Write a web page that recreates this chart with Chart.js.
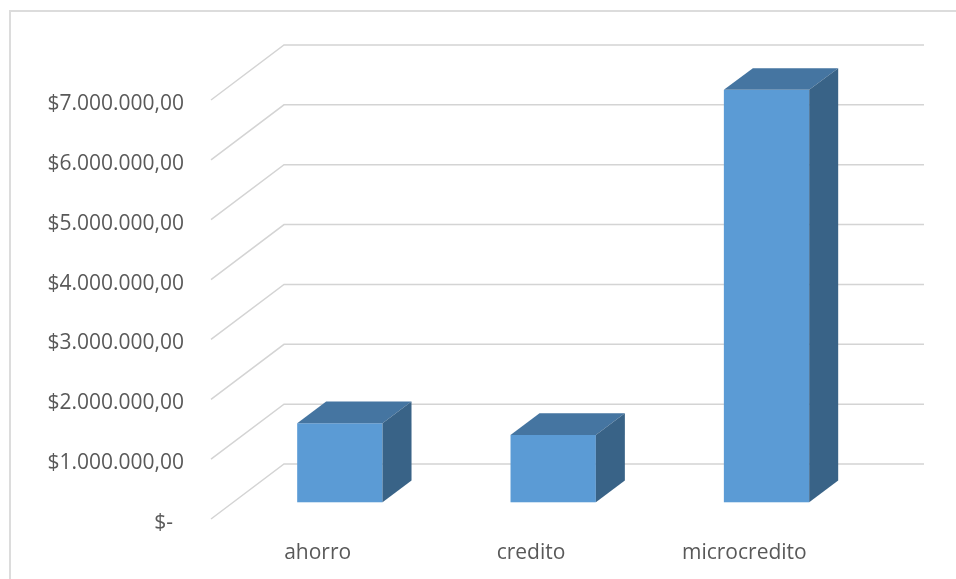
<!DOCTYPE html>
<html>
<head>
<meta charset="utf-8">
<script src="https://cdn.jsdelivr.net/npm/chart.js@4/dist/chart.umd.min.js"></script>
<style>
  html, body { margin: 0; padding: 0; background: #fff; overflow: hidden; }
  #frame { position: absolute; left: 9px; top: 10px; width: 1000px; height: 1000px;
           border-left: 2px solid #dcdcdc; border-top: 2px solid #dcdcdc; }
  #myChart { position: absolute; left: 0; top: 0; }
</style>
</head>
<body>
<div id="frame"></div>
<canvas id="myChart" width="956" height="579"></canvas>
<script>
// data
var categories = ["ahorro", "credito", "microcredito"];
var montos = [1320000, 1125000, 6890000];
var yMax = 7000000;
var yStep = 1000000;

// 3d look
var wallDX = 73, wallDY = -55;     // front edge of floor -> back wall
var faceFrac = 0.304;              // where the bar front face sits in depth
var barDX = 29, barDY = -21.7;     // bar depth
var gridColor = "#d4d4d4";
var frontColor = "#5b9bd5";
var topColor = "#4575a1";
var sideColor = "#396387";

function money(v){
  if (v === 0) return "$-  ";
  var s = Math.round(v).toString().replace(/\B(?=(\d{3})+(?!\d))/g, ".");
  return "$" + s + ",00";
}

var wallPlugin = {
  id: "wall",
  beforeDatasetsDraw: function(chart){
    var ctx = chart.ctx;
    var ys = chart.scales.y;
    var area = chart.chartArea;
    ctx.save();
    ctx.strokeStyle = gridColor;
    ctx.lineWidth = 1.5;
    ys.ticks.forEach(function(t){
      var y = ys.getPixelForValue(t.value);
      ctx.beginPath();
      ctx.moveTo(area.left, y);
      ctx.lineTo(area.left + wallDX, y + wallDY);
      ctx.lineTo(area.right + wallDX, y + wallDY);
      ctx.stroke();
    });
    ctx.restore();
  },
  afterDatasetsDraw: function(chart){
    var ctx = chart.ctx;
    var meta = chart.getDatasetMeta(0);
    var fx = faceFrac * wallDX, fy = faceFrac * wallDY;
    ctx.save();
    meta.data.forEach(function(bar){
      var p = bar.getProps(["x", "y", "base", "width"], true);
      var x0 = p.x - p.width / 2 + fx, x1 = p.x + p.width / 2 + fx;
      var yt = p.y + fy, yb = p.base + fy;
      // front
      ctx.fillStyle = frontColor;
      ctx.fillRect(x0, yt, x1 - x0, yb - yt);
      // top
      ctx.fillStyle = topColor;
      ctx.beginPath();
      ctx.moveTo(x0, yt);
      ctx.lineTo(x1, yt);
      ctx.lineTo(x1 + barDX, yt + barDY);
      ctx.lineTo(x0 + barDX, yt + barDY);
      ctx.closePath();
      ctx.fill();
      // side
      ctx.fillStyle = sideColor;
      ctx.beginPath();
      ctx.moveTo(x1, yt);
      ctx.lineTo(x1 + barDX, yt + barDY);
      ctx.lineTo(x1 + barDX, yb + barDY);
      ctx.lineTo(x1, yb);
      ctx.closePath();
      ctx.fill();
    });
    ctx.restore();
  }
};

var ctx = document.getElementById("myChart").getContext("2d");
var chart = new Chart(ctx, {
  type: "bar",
  data: {
    labels: categories,
    datasets: [{
      label: "Monto",
      data: montos,
      backgroundColor: "rgba(0,0,0,0)",
      borderWidth: 0,
      categoryPercentage: 0.4,
      barPercentage: 1
    }]
  },
  options: {
    responsive: false,
    animation: false,
    devicePixelRatio: 1,
    layout: { padding: { top: 100, right: 105, bottom: 0, left: 0 } },
    plugins: { legend: { display: false }, tooltip: { enabled: false } },
    scales: {
      x: {
        grid: { display: false, drawTicks: false },
        border: { display: false },
        ticks: { color: "#595959", font: { family: "Open Sans", size: 21 }, padding: 21, maxRotation: 0 },
        afterFit: function(s){ s.height = 60; }
      },
      y: {
        min: 0,
        max: yMax,
        grid: { display: false, drawTicks: false },
        border: { display: false },
        ticks: {
          stepSize: yStep,
          color: "#595959",
          font: { family: "Open Sans", size: 21 },
          padding: 27,
          labelOffset: 4,
          callback: function(v){ return money(v); }
        },
        afterFit: function(s){ s.width = 211; }
      }
    }
  },
  plugins: [wallPlugin]
});
</script>
</body>
</html>
